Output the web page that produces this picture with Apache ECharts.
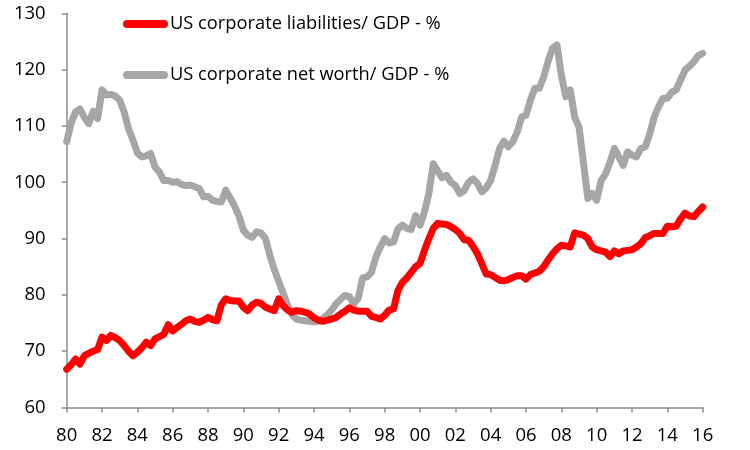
<!DOCTYPE html>
<html>
<head>
<meta charset="utf-8">
<script src="https://cdn.jsdelivr.net/npm/echarts@6/dist/echarts.min.js"></script>
<style>
html,body{margin:0;padding:0;background:#fff;}
#chart{width:750px;height:450px;}
</style>
</head>
<body>
<div id="chart"></div>
<script>
// Quarterly observations, 1980Q1 .. 2016Q1
var startYear = 1980;
var endYear = 2016;
var seriesNames = ["US corporate liabilities/ GDP - %", "US corporate net worth/ GDP - %"];

var liabilities = [
  66.8, 67.6, 68.6, 67.7,
  69.2, 69.6, 70.0, 70.3,
  72.5, 71.9, 72.8, 72.4,
  71.9, 71.0, 70.0, 69.2,
  69.8, 70.6, 71.6, 71.0,
  72.2, 72.6, 73.0, 74.7,
  73.6, 74.2, 74.8, 75.4,
  75.7, 75.3, 75.1, 75.5,
  76.0, 75.6, 75.4, 78.2,
  79.3, 79.0, 78.9, 78.9,
  77.8, 77.2, 78.2, 78.7,
  78.5, 77.8, 77.5, 77.2,
  79.3, 78.1, 77.3, 76.9,
  77.2, 77.1, 76.9, 76.6,
  75.9, 75.5, 75.3, 75.5,
  75.7, 76.0, 76.6, 77.1,
  77.7, 77.3, 77.1, 77.1,
  77.1, 76.2, 76.0, 75.7,
  76.4, 77.3, 77.5, 80.8,
  82.2, 83.0, 84.0, 85.0,
  85.6, 87.9, 90.0, 91.8,
  92.7, 92.6, 92.5, 92.1,
  91.6, 90.9, 89.8, 89.7,
  88.6, 87.3, 85.5, 83.7,
  83.6, 83.1, 82.6, 82.5,
  82.7, 83.1, 83.4, 83.4,
  82.8, 83.6, 83.9, 84.2,
  85.0, 86.2, 87.3, 88.2,
  88.8, 88.7, 88.5, 91.0,
  90.8, 90.6, 90.0, 88.5,
  88.0, 87.8, 87.6, 86.8,
  87.8, 87.3, 87.8, 87.9,
  88.0, 88.5, 89.1, 90.2,
  90.5, 90.9, 90.9, 90.9,
  92.2, 92.1, 92.2, 93.5,
  94.5, 94.0, 93.9, 94.8,
  95.6
];

var netWorth = [
  107.2, 110.5, 112.5, 113.0,
  111.5, 110.4, 112.6, 111.3,
  116.4, 115.5, 115.6, 115.3,
  114.6, 112.5, 109.5, 107.5,
  105.2, 104.5, 104.7, 105.1,
  102.7, 101.8, 100.3, 100.3,
  100.0, 100.1, 99.6, 99.4,
  99.5, 99.2, 98.9, 97.4,
  97.5, 96.8, 96.6, 96.5,
  98.6, 97.2, 95.8, 94.0,
  91.5, 90.6, 90.2, 91.2,
  91.0, 90.0, 87.0, 84.5,
  82.4, 80.3, 78.2, 76.5,
  75.7, 75.5, 75.4, 75.3,
  75.2, 75.3, 75.8, 76.5,
  77.3, 78.4, 79.2, 79.9,
  79.7, 78.4, 79.4, 83.0,
  83.2, 84.0, 86.7, 88.5,
  90.0, 89.2, 89.4, 91.7,
  92.4, 91.8, 91.6, 94.1,
  92.4, 94.7, 98.0, 103.3,
  102.0, 100.8, 101.2, 100.0,
  99.4, 98.0, 98.5, 100.0,
  100.6, 99.8, 98.3, 99.0,
  100.3, 103.0, 106.0, 107.3,
  106.3, 107.2, 108.9, 111.6,
  111.9, 114.6, 116.7, 116.7,
  118.7, 121.5, 123.8, 124.4,
  119.0, 115.2, 116.4, 111.6,
  109.8, 103.5, 97.1, 98.0,
  96.8, 100.3, 101.5, 103.5,
  106.0, 104.5, 103.0, 105.4,
  104.8, 104.5, 106.0, 106.3,
  108.6, 111.5, 113.4, 114.9,
  114.9, 116.0, 116.4, 118.2,
  119.9, 120.6, 121.4, 122.5,
  122.9
];

var yTicks = [60, 70, 80, 90, 100, 110, 120, 130];

// Category labels (one per quarter)
var quarters = [];
for (var y = startYear; y <= endYear; y++) {
  for (var q = 1; q <= 4; q++) {
    if (y === endYear && q > 1) break;
    quarters.push(y + "Q" + q);
  }
}

var FONT = "'Open Sans', 'Liberation Sans', sans-serif";
var AXIS_COLOR = "#8c8c8c";
var RED = "#ff0000";
var GRAY = "#a6a6a6";
var pill = "path://M4,0 L41,0 A4,4 0 0 1 41,8 L4,8 A4,4 0 0 1 4,0 Z";

var chart = echarts.init(document.getElementById("chart"), null, {renderer: "canvas"});
chart.setOption({
  animation: false,
  backgroundColor: "#ffffff",
  grid: {left: 66.7, right: 47.3, top: 13.3, bottom: 42.5, containLabel: false},
  legend: [
    {
      data: [seriesNames[0]], left: 123, top: 15, orient: "vertical", padding: 0,
      icon: pill, itemWidth: 45, itemHeight: 8, itemGap: 0,
      textStyle: {fontFamily: FONT, fontSize: 18.3, color: "#000", padding: [0, 0, 0, -3]}
    },
    {
      data: [seriesNames[1]], left: 123, top: 66, orient: "vertical", padding: 0,
      icon: pill, itemWidth: 45, itemHeight: 8, itemGap: 0,
      textStyle: {fontFamily: FONT, fontSize: 18.3, color: "#000", padding: [0, 0, 0, -3]}
    }
  ],
  xAxis: {
    type: "category",
    data: quarters,
    boundaryGap: false,
    axisLine: {lineStyle: {color: AXIS_COLOR, width: 1.5}},
    axisTick: {show: true, length: 5, interval: 7, alignWithLabel: true, lineStyle: {color: AXIS_COLOR, width: 1.5}},
    axisLabel: {
      interval: 7, margin: 19, color: "#000", fontFamily: FONT, fontSize: 18.5,
      formatter: function (v) { return v.substr(2, 2); }
    },
    splitLine: {show: false}
  },
  yAxis: {
    type: "value",
    min: yTicks[0], max: yTicks[yTicks.length - 1], interval: 10,
    axisLine: {show: true, lineStyle: {color: AXIS_COLOR, width: 1.5}},
    axisTick: {show: true, length: 5, lineStyle: {color: AXIS_COLOR, width: 1.5}},
    axisLabel: {margin: 21, color: "#000", fontFamily: FONT, fontSize: 18.5},
    splitLine: {show: false}
  },
  series: [
    {
      name: seriesNames[1], type: "line", data: netWorth, showSymbol: false, symbol: "none",
      itemStyle: {color: GRAY},
      lineStyle: {color: GRAY, width: 7, cap: "round", join: "round"}
    },
    {
      name: seriesNames[0], type: "line", data: liabilities, showSymbol: false, symbol: "none",
      itemStyle: {color: RED},
      lineStyle: {color: RED, width: 7, cap: "round", join: "round"}
    }
  ]
});
</script>
</body>
</html>
